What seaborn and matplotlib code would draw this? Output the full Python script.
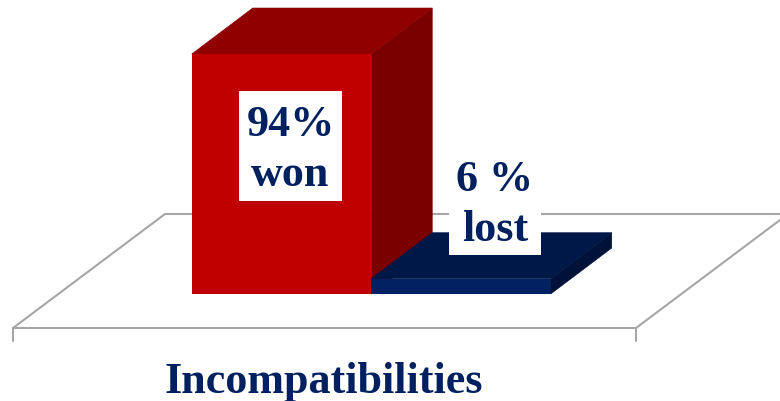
import pandas as pd
import matplotlib.pyplot as plt
import matplotlib.transforms as mtrans
from matplotlib.patches import Polygon, Rectangle
import seaborn as sns

# data
categorias = ['won', 'lost']
valores = [94, 6]
rotulos = ['94%\nwon', '6 %\nlost']
titulo = 'Incompatibilities'

# cores: frente, topo, lado
cor_frente = ['#C00000', '#002060']
cor_topo = ['#900000', '#001848']
cor_lado = ['#7A0000', '#001238']
cor_texto = '#002060'
cor_piso = '#A6A6A6'

W, H = 780, 402
PROF_X, PROF_Y = 61, 46  # profundidade 3D em pixels

df = pd.DataFrame({'categoria': categorias, 'valor': valores})

sns.set_theme(style='white')
plt.rcParams['font.family'] = ['Liberation Serif', 'DejaVu Serif']

fig = plt.figure(figsize=(W / 100, H / 100), dpi=100)
ax = fig.add_axes([0, 0, 1, 1])

sns.barplot(data=df, x='categoria', y='valor', hue='categoria', palette=cor_frente,
            saturation=1, width=1, legend=False, ax=ax, zorder=3, linewidth=0)

# escala: barra de 94 vai de y=294 a y=54, cada barra com ~179.5 px de largura
px_x = 179.5
px_y = 240 / 94
x0_px, y0_px = 281.5, 295
ax.set_xlim(-x0_px / px_x, (W - x0_px) / px_x)
ax.set_ylim((y0_px - H) / px_y, y0_px / px_y)
ax.axis('off')

# transform em pixels da imagem (origem no topo)
tr_px = mtrans.Affine2D().translate(0, 1).scale(1 / W, -1 / H).translate(0, 1) + fig.transFigure

# piso
piso = [(13, 328), (165, 214), (788, 214), (636, 328), (13, 328)]
ax.plot(*zip(*piso), color=cor_piso, lw=1.5, transform=tr_px, zorder=1, clip_on=False)
for xt in [13, 636]:
    ax.plot([xt, xt], [328, 341], color=cor_piso, lw=1.5, transform=tr_px, zorder=1)

# faces 3D a partir das barras do seaborn
dx, dy = PROF_X / px_x, PROF_Y / px_y
for i, barra in enumerate(ax.patches[:len(valores)]):
    x1, x2 = barra.get_x(), barra.get_x() + barra.get_width()
    y1 = barra.get_height()
    lado = [(x2, 0), (x2 + dx, dy), (x2 + dx, y1 + dy), (x2, y1)]
    topo = [(x1, y1), (x1 + dx, y1 + dy), (x2 + dx, y1 + dy), (x2, y1)]
    ax.add_patch(Polygon(lado, closed=True, fc=cor_lado[i], ec=cor_lado[i], lw=0.4, zorder=2 + i * 0.1))
    ax.add_patch(Polygon(topo, closed=True, fc=cor_topo[i], ec=cor_topo[i], lw=0.4, zorder=2 + i * 0.1))

# caixas brancas e rótulos
caixas = [(239, 91, 103, 110), (449, 150, 92, 105)]
centros_y = [149, 204]
for (xb, yb, wb, hb), rot, yc in zip(caixas, rotulos, centros_y):
    ax.add_patch(Rectangle((xb, yb), wb, hb, fc='white', ec='none', transform=tr_px, zorder=5))
    ax.text(xb + wb / 2, yc, rot, transform=tr_px, ha='center', va='center',
            color=cor_texto, fontsize=31.8, fontweight='bold', linespacing=1.3, zorder=6)

ax.text(323.5, 381, titulo, transform=tr_px, ha='center', va='center',
        color=cor_texto, fontsize=31.8, fontweight='bold')

fig.savefig('out.png', dpi=100)
